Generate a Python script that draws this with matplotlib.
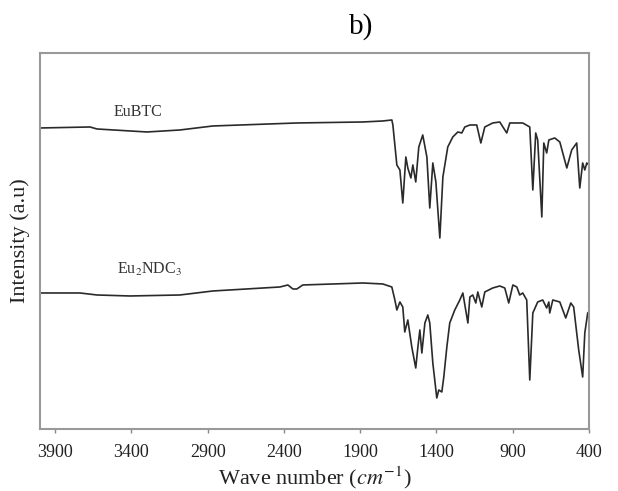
import matplotlib
matplotlib.use("Agg")
import matplotlib.pyplot as plt

plt.rcParams['font.family'] = ['Liberation Serif', 'DejaVu Serif']
plt.rcParams['mathtext.fontset'] = 'stix'

# EuBTC spectrum (wavenumber cm-1, intensity a.u.)
eubtc_wn = [4000, 3672, 3626, 3298, 3082, 2866, 2315, 1882, 1751, 1692, 1685,
            1659, 1639, 1620, 1600, 1587, 1567, 1554, 1535, 1515, 1489, 1462,
            1443, 1423, 1403, 1377, 1357, 1325, 1292, 1259, 1233, 1213, 1180,
            1135, 1108, 1082, 1030, 984, 938, 918, 833, 787, 767, 748, 735,
            708, 695, 676, 662, 623, 590, 544, 512, 479, 459, 440, 426, 413, 400]
eubtc_int = [301, 302, 300, 297, 299, 303, 306, 307, 308, 309, 304,
             264, 259, 226, 272, 261, 251, 264, 247, 282, 294, 272,
             221, 266, 247, 191, 252, 282, 292, 297, 296, 302, 304,
             304, 286, 302, 306, 307, 296, 306, 306, 302, 239, 296, 289,
             212, 286, 276, 289, 291, 287, 261, 279, 286, 241, 266, 259, 266, 264]

# Eu2NDC3 spectrum
ndc_wn = [4000, 3738, 3626, 3410, 3082, 2866, 2426, 2374, 2341, 2315, 2276,
          1882, 1751, 1692, 1672, 1659, 1639, 1620, 1607, 1587, 1561, 1535,
          1521, 1508, 1495, 1475, 1456, 1443, 1423, 1397, 1384, 1364, 1351,
          1331, 1312, 1279, 1246, 1226, 1193, 1180, 1161, 1141, 1128, 1102,
          1082, 1030, 984, 951, 925, 898, 872, 853, 833, 807, 787, 767, 735,
          702, 676, 662, 656, 636, 590, 551, 518, 499, 466, 440, 426, 407, 400]
ndc_int = [136, 136, 134, 133, 134, 138, 142, 144, 140, 140, 144,
           146, 145, 142, 129, 119, 127, 122, 97, 109, 82, 61,
           82, 99, 76, 106, 114, 106, 66, 31, 39, 37, 52,
           82, 106, 119, 129, 136, 106, 132, 134, 126, 137, 122,
           137, 141, 143, 141, 126, 144, 142, 134, 136, 129, 49, 116, 127,
           129, 121, 127, 116, 129, 127, 111, 126, 122, 79, 52, 96, 116, 117]

xticks = [3900, 3400, 2900, 2400, 1900, 1400, 900, 400]

fig = plt.figure(figsize=(6.18, 4.91), dpi=100)
ax = fig.add_axes([0.0647, 0.1263, 0.888, 0.7658])

ax.plot(eubtc_wn, eubtc_int, color='#2a2a2a', lw=1.2)
ax.plot(ndc_wn, ndc_int, color='#2a2a2a', lw=1.2)

ax.set_xlim(4000, 400)
ax.set_ylim(0, 376)
ax.set_xticks(xticks)
ax.set_yticks([])
ax.tick_params(axis='x', direction='out', length=3, width=1, color='#888888',
               labelsize=13, pad=8, labelcolor='#222222')
for s in ax.spines.values():
    s.set_color('#999999')
    s.set_linewidth(1.5)

ax.text(3357, 317, 'EuBTC', fontsize=11.5, ha='center', va='center', color='#333333')
ax.text(3279, 160, 'Eu$_2$NDC$_3$', fontsize=11.5, ha='center', va='center', color='#333333')

ax.set_xlabel('Wave number ($cm^{-1}$)', fontsize=16, color='#222222')
ax.xaxis.set_label_coords(0.5, -0.095)
ax.set_ylabel('Intensity (a.u)', fontsize=16, labelpad=7, color='#222222')

fig.text(0.584, 0.945, 'b)', fontsize=21, ha='center', va='center')

fig.savefig('out.png', dpi=100)
